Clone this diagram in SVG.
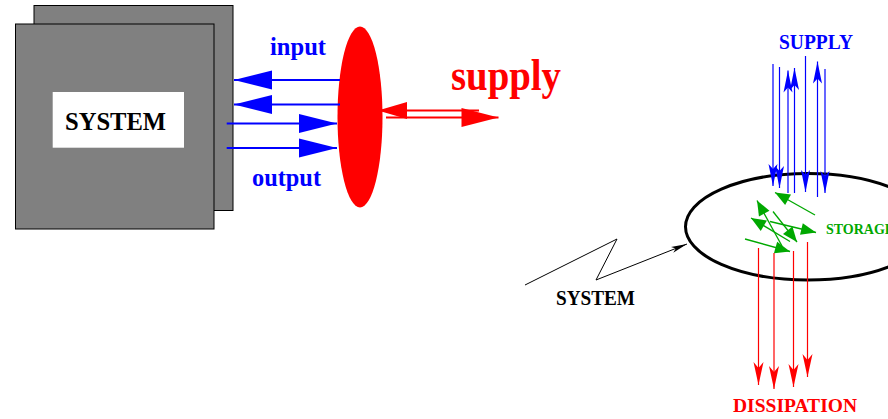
<svg xmlns="http://www.w3.org/2000/svg" width="888" height="419" viewBox="0 0 888 419">
<style>
.t{font-family:"Liberation Serif","Times New Roman",serif;font-weight:bold}
.box{fill:#808080;stroke:#000;stroke-width:1}
.bl2{stroke:#00f;stroke-width:2;fill:none}
.bl1{stroke:#00f;stroke-width:1.2;fill:none}
.rd1{stroke:#f00;stroke-width:1.2;fill:none}
.rd2{stroke:#f00;stroke-width:2.2;fill:none}
.gr{stroke:#00a800;stroke-width:1.3;fill:none}
</style>
<defs>
<marker id="mBig" markerUnits="userSpaceOnUse" markerWidth="38" markerHeight="19" refX="38" refY="9.5" orient="auto" overflow="visible"><path d="M0,0 L38,9.5 L0,19 Z" fill="#00f"/></marker>
<marker id="mBlue" markerUnits="userSpaceOnUse" markerWidth="22" markerHeight="9" refX="22" refY="4.5" orient="auto" overflow="visible"><path d="M0,0 L22,4.5 L0,9 L5,4.5 Z" fill="#00f"/></marker>
<marker id="mRed" markerUnits="userSpaceOnUse" markerWidth="23" markerHeight="10" refX="23" refY="5" orient="auto" overflow="visible"><path d="M0,0 L23,5 L0,10 L6,5 Z" fill="#f00"/></marker>
<marker id="mRedL" markerUnits="userSpaceOnUse" markerWidth="29" markerHeight="17" refX="29" refY="8.5" orient="auto" overflow="visible"><path d="M0,0 L29,8.5 L0,17 Z" fill="#f00"/></marker>
<marker id="mRedR" markerUnits="userSpaceOnUse" markerWidth="37" markerHeight="19" refX="37" refY="9.5" orient="auto" overflow="visible"><path d="M0,0 L37,9.5 L0,19 Z" fill="#f00"/></marker>
<marker id="mGreen" markerUnits="userSpaceOnUse" markerWidth="15" markerHeight="12" refX="15" refY="6" orient="auto" overflow="visible"><path d="M0,0 L15,6 L0,12 Z" fill="#00a800"/></marker>
<marker id="mBlack" markerUnits="userSpaceOnUse" markerWidth="16" markerHeight="6" refX="16" refY="3" orient="auto" overflow="visible"><path d="M0,0 L16,3 L0,6 L4,3 Z" fill="#000"/></marker>
</defs>

<g id="system-box">
<rect class="box" x="34" y="5.5" width="199" height="205"/>
<rect class="box" x="15.5" y="24" width="198.5" height="205"/>
<rect x="52.7" y="92" width="131.3" height="55.7" fill="#fff"/>
<text class="t" x="65" y="130" font-size="25" textLength="101" lengthAdjust="spacingAndGlyphs" fill="#000">SYSTEM</text>
</g>

<g id="interface">
<ellipse cx="360" cy="117" rx="22.5" ry="90.5" fill="#f00"/>
</g>

<g id="labels-left">
<text class="t" x="270" y="55" font-size="25" textLength="56" lengthAdjust="spacingAndGlyphs" fill="#00f">input</text>
<text class="t" x="252" y="186" font-size="25" textLength="69" lengthAdjust="spacingAndGlyphs" fill="#00f">output</text>
<text class="t" x="451" y="90" font-size="45" textLength="110" lengthAdjust="spacingAndGlyphs" fill="#f00">supply</text>
</g>

<g id="system-ellipse">
<ellipse cx="808" cy="226.75" rx="122.5" ry="53.25" fill="none" stroke="#000" stroke-width="3"/>
</g>

<g id="labels-right">
<text class="t" x="779" y="49" font-size="20" textLength="74" lengthAdjust="spacingAndGlyphs" fill="#00f">SUPPLY</text>
<text class="t" x="826" y="234" font-size="14" fill="#00a800">STORAGE</text>
<text class="t" x="556" y="305" font-size="20" textLength="79" lengthAdjust="spacingAndGlyphs" fill="#000">SYSTEM</text>
<text class="t" x="733" y="411.7" font-size="19" textLength="124" lengthAdjust="spacingAndGlyphs" fill="#f00">DISSIPATION</text>
</g>

<g id="connectors">
<line class="bl2" x1="340" y1="80" x2="234" y2="80" marker-end="url(#mBig)"/>
<line class="bl2" x1="340" y1="104.5" x2="234" y2="104.5" marker-end="url(#mBig)"/>
<line class="bl2" x1="226.7" y1="123.5" x2="337" y2="123.5" marker-end="url(#mBig)"/>
<line class="bl2" x1="226.7" y1="148" x2="337" y2="148" marker-end="url(#mBig)"/>

<line class="rd2" x1="479" y1="110.5" x2="378" y2="110.5" marker-end="url(#mRedL)"/>
<line class="rd2" x1="386" y1="117.5" x2="498.5" y2="117.5" marker-end="url(#mRedR)"/>

<line class="bl1" x1="773" y1="64" x2="773" y2="186" marker-end="url(#mBlue)"/>
<line class="bl1" x1="779.5" y1="67" x2="779.5" y2="188" marker-end="url(#mBlue)"/>
<line class="bl1" x1="788" y1="193" x2="788" y2="70.5" marker-end="url(#mBlue)"/>
<line class="bl1" x1="794.5" y1="193" x2="794.5" y2="68" marker-end="url(#mBlue)"/>
<line class="bl1" x1="805.5" y1="56" x2="805.5" y2="192" marker-end="url(#mBlue)"/>
<line class="bl1" x1="817.5" y1="197" x2="817.5" y2="61.5" marker-end="url(#mBlue)"/>
<line class="bl1" x1="825" y1="69" x2="825" y2="193" marker-end="url(#mBlue)"/>

<line class="gr" x1="815" y1="215" x2="775" y2="192.5" marker-end="url(#mGreen)"/>
<line class="gr" x1="782" y1="246" x2="757" y2="200.5" marker-end="url(#mGreen)"/>
<line class="gr" x1="790" y1="241.5" x2="751" y2="218" marker-end="url(#mGreen)"/>
<line class="gr" x1="773" y1="211.5" x2="797" y2="242" marker-end="url(#mGreen)"/>
<line class="gr" x1="770" y1="221.5" x2="816" y2="232.5" marker-end="url(#mGreen)"/>
<line class="gr" x1="745" y1="239" x2="790" y2="251.5" marker-end="url(#mGreen)"/>

<line class="rd1" x1="758.5" y1="248" x2="758.5" y2="385" marker-end="url(#mRed)"/>
<line class="rd1" x1="774" y1="253" x2="774" y2="389" marker-end="url(#mRed)"/>
<line class="rd1" x1="793.5" y1="251" x2="793.5" y2="387" marker-end="url(#mRed)"/>
<line class="rd1" x1="807.5" y1="242" x2="807.5" y2="377" marker-end="url(#mRed)"/>

<polyline points="525,285 617,239 596,280 687,244" fill="none" stroke="#000" stroke-width="1" marker-end="url(#mBlack)"/>
</g>
</svg>
